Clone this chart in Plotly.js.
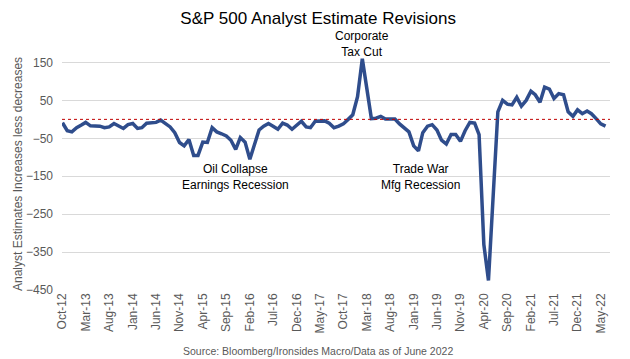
<!DOCTYPE html>
<html>
<head>
<meta charset="utf-8">
<script src="https://cdn.plot.ly/plotly-3.0.1.min.js"></script>
<style>html,body{margin:0;padding:0;background:#fff;}#chart{width:630px;height:359px;}</style>
</head>
<body>
<div id="chart"></div>
<script>
// Monthly series starting Oct-2012 (net analyst estimate revisions)
const startYear = 2012, startMonth = 10;
const revisions = [
  -9, -30, -33, -22, -15, -8, -17, -18, -18, -22,
  -20, -11, -17, -24, -14, -11, -24, -22, -10, -10,
  -8, -2, -12, -20, -35, -61, -70, -53, -95, -95,
  -60, -61, -22, -33, -38, -44, -55, -79, -48, -60,
  -105, -70, -28, -18, -11, -18, -26, -10, -15, -26,
  -15, -5, -20, -22, -5, -4, -4, -10, -22, -18,
  -12, 0, 12, 60, 160, 85, 2, 3, 8, 1,
  2, 1, -12, -24, -33, -70, -83, -35, -18, -14,
  -28, -55, -65, -40, -40, -58, -30, -8, -10, -40,
  -330, -425, -210, 20, 50, 40, 38, 58, 35, 50,
  74, 65, 45, 85, 80, 55, 68, 65, 20, 8,
  25, 15, 22, 15, 2, -12, -18
];
const tickDates = ['2012-10-01','2013-03-01','2013-08-01','2014-01-01','2014-06-01','2014-11-01','2015-04-01','2015-09-01','2016-02-01','2016-07-01','2016-12-01','2017-05-01','2017-10-01','2018-03-01','2018-08-01','2019-01-01','2019-06-01','2019-11-01','2020-04-01','2020-09-01','2021-02-01','2021-07-01','2021-12-01','2022-05-01'];
const tickLabels = ['Oct-12','Mar-13','Aug-13','Jan-14','Jun-14','Nov-14','Apr-15','Sep-15','Feb-16','Jul-16','Dec-16','May-17','Oct-17','Mar-18','Aug-18','Jan-19','Jun-19','Nov-19','Apr-20','Sep-20','Feb-21','Jul-21','Dec-21','May-22'];
const yTicks = [-450, -350, -250, -150, -50, 50, 150];

const dates = revisions.map((_, i) => {
  const t = (startMonth - 1) + i;
  const y = startYear + Math.floor(t / 12);
  const m = (t % 12) + 1;
  return y + '-' + String(m).padStart(2, '0') + '-01';
});

const font = 'Liberation Sans, Arial, sans-serif';
const trace = {
  x: dates, y: revisions, type: 'scatter', mode: 'lines',
  line: {color: '#2F4D8C', width: 3.5}, hoverinfo: 'skip'
};
const layout = {
  width: 630, height: 359,
  margin: {l: 62, r: 20, t: 53, b: 69},
  paper_bgcolor: '#fff', plot_bgcolor: '#fff',
  showlegend: false,
  font: {family: font, size: 12, color: '#595959'},
  title: {text: 'S&P 500 Analyst Estimate Revisions', font: {family: font, size: 17, color: '#000'}, x: 0.505, xanchor: 'center', y: 0.95, yanchor: 'middle'},
  xaxis: {
    type: 'date', range: ['2012-09-28', '2022-06-30'],
    tickvals: tickDates, ticktext: tickLabels, tickangle: -90,
    showgrid: false, zeroline: false, showline: false, ticks: '',
    tickfont: {family: font, size: 12, color: '#595959'}
  },
  yaxis: {
    range: [-450, 175], tickvals: yTicks, showgrid: true, gridcolor: '#D9D9D9', gridwidth: 1,
    zeroline: false, showline: false, ticks: '', ticklabelstandoff: 8,
    tickfont: {family: font, size: 12, color: '#595959'}
  },
  shapes: [{
    type: 'line', xref: 'paper', x0: 0, x1: 1, yref: 'y', y0: 0, y1: 0,
    line: {color: '#C00000', width: 1, dash: 'dot'}, layer: 'above'
  }],
  annotations: [
    {text: 'Analyst Estimates Increases less decreases', xref: 'paper', yref: 'paper', x: -0.080, y: 0.49, xanchor: 'center', yanchor: 'middle', textangle: -90, showarrow: false, font: {family: font, size: 12, color: '#595959'}},
    {text: 'Corporate<br>Tax Cut', xref: 'paper', yref: 'paper', x: 0.548, y: 0.968, xanchor: 'center', yanchor: 'bottom', showarrow: false, font: {family: font, size: 12, color: '#000'}},
    {text: 'Oil Collapse<br>Earnings Recession', xref: 'paper', yref: 'paper', x: 0.317, y: 0.55, xanchor: 'center', yanchor: 'top', showarrow: false, font: {family: font, size: 12, color: '#000'}},
    {text: 'Trade War<br>Mfg Recession', xref: 'paper', yref: 'paper', x: 0.655, y: 0.55, xanchor: 'center', yanchor: 'top', showarrow: false, font: {family: font, size: 12, color: '#000'}},
    {text: 'Source: Bloomberg/Ironsides Macro/Data as of June 2022', xref: 'paper', yref: 'paper', x: 0.467, y: -0.225, xanchor: 'center', yanchor: 'top', showarrow: false, font: {family: font, size: 10.5, color: '#595959'}}
  ]
};
Plotly.newPlot('chart', [trace], layout, {displayModeBar: false, staticPlot: true});
</script>
</body>
</html>
